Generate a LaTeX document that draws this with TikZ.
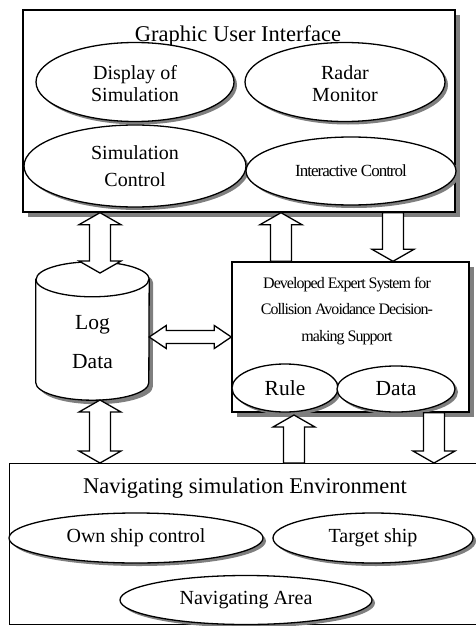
\documentclass[tikz,border=0pt]{standalone}
\usepackage{fontspec}
\setmainfont{Liberation Serif}
\newfontfamily\tightfont{Liberation Serif}[LetterSpace=-6]
\usepackage{tikz}
\usetikzlibrary{
  arrows.meta,
  positioning,
  shapes.geometric,
  shadows,
  calc,
}
\definecolor{shadowGray}{HTML}{7F7F7F}
\tikzset{
  arrshaft/.store in=\arrshaft,
  arrhead/.store in=\arrhead,
  arrtip/.store in=\arrtip,
  arrshaft=10.5pt, arrhead=21pt, arrtip=12pt,
  panel/.style={
    rectangle, draw, line width=1.4pt, fill=white, inner sep=0pt,
  },
  panelShadow/.style={
    drop shadow={shadow xshift=5pt, shadow yshift=-5pt, fill=shadowGray, opacity=1},
  },
  bubble/.style={
    ellipse, draw, line width=1.3pt, fill=white, inner sep=0pt, align=center,
    font=\fontsize{20}{22.5}\selectfont,
    drop shadow={shadow xshift=3pt, shadow yshift=-3pt, fill=shadowGray, opacity=1},
  },
  storeLine/.style={
    draw, line width=1.3pt, fill=white,
    drop shadow={shadow xshift=4pt, shadow yshift=-4pt, fill=shadowGray, opacity=1},
  },
  capArc/.style={x radius=56.5pt, y radius=17.5pt},
  titleText/.style={inner sep=0pt, font=\fontsize{22.5}{26}\selectfont},
  bigText/.style={font=\fontsize{21.5}{24}\selectfont},
  tightText/.style={inner sep=0pt, align=center, font=\tightfont\fontsize{16}{26.5}\selectfont},
  fatArrow/.style={
    draw, line width=1.3pt, fill=white,
    to path={
      ($(\tikztotarget)!\arrtip!(\tikztostart)$) coordinate (hb)
      ($(\tikztostart)!\arrshaft!90:(\tikztotarget)$)
      -- ($(hb)!\arrshaft!90:(\tikztotarget)$)
      -- ($(hb)!\arrhead!90:(\tikztotarget)$)
      -- (\tikztotarget)
      -- ($(hb)!\arrhead!-90:(\tikztotarget)$)
      -- ($(hb)!\arrshaft!-90:(\tikztotarget)$)
      -- ($(\tikztostart)!\arrshaft!-90:(\tikztotarget)$)
      -- cycle
    },
  },
  fatDouble/.style={
    draw, line width=1.3pt, fill=white,
    to path={
      ($(\tikztotarget)!\arrtip!(\tikztostart)$) coordinate (hb)
      ($(\tikztostart)!\arrtip!(\tikztotarget)$) coordinate (ha)
      (\tikztostart)
      -- ($(ha)!\arrhead!90:(\tikztotarget)$)
      -- ($(ha)!\arrshaft!90:(\tikztotarget)$)
      -- ($(hb)!\arrshaft!90:(\tikztotarget)$)
      -- ($(hb)!\arrhead!90:(\tikztotarget)$)
      -- (\tikztotarget)
      -- ($(hb)!\arrhead!-90:(\tikztotarget)$)
      -- ($(hb)!\arrshaft!-90:(\tikztotarget)$)
      -- ($(ha)!\arrshaft!-90:(\tikztotarget)$)
      -- ($(ha)!\arrhead!-90:(\tikztotarget)$)
      -- cycle
    },
  },
}

\begin{document}
\begin{tikzpicture}[x=1pt, y=-1pt]
\useasboundingbox (0,0) rectangle (476,626);

% Graphic user interface
\node[panel, panelShadow, minimum width=432pt, minimum height=202pt] (gui) at (239,111) {};
\node[titleText] (guiTitle) at (238,36) {Graphic User Interface};
\node[bubble, minimum width=198pt, minimum height=79pt] (display) at (135,82) {\\[-5pt]Display of\\Simulation};
\node[bubble, minimum width=200pt, minimum height=79pt] (radar) at (345,82) {\\[-5pt]Radar\\Monitor};
\node[bubble, minimum width=222pt, minimum height=82pt] (simCtrl) at (135,166) {Simulation\\[4.5pt]Control};
\node[bubble, font=\tightfont\fontsize{17}{20}\selectfont, minimum width=210pt, minimum height=68pt] (interact) at (351,171) {Interactive Control};

% Expert system
\node[panel, panelShadow, minimum width=237pt, minimum height=150pt] (expert) at (350.5,337) {};
\node[tightText] (expertText) at (347,311) {Developed Expert System for\\Collision Avoidance Decision-\\making Support};
\node[bubble, bigText, minimum width=106pt, minimum height=48pt] (rule) at (285,388) {Rule};
\node[bubble, bigText, minimum width=118pt, minimum height=46pt] (data) at (396,389) {Data};

% Log data store (cylinder)
\node[inner sep=0pt, minimum width=113pt, minimum height=138pt] (log) at (92.5,331) {};
\draw[storeLine] ($(log.north west)+(0,17.5)$) coordinate (logLid)
  -- ($(log.south west)+(0,-17.5)$) arc[start angle=180, end angle=360, capArc]
  -- ($(log.north east)+(0,17.5)$) arc[start angle=0, end angle=180, capArc] -- cycle;
\draw[line width=1.3pt] (logLid) arc[start angle=180, end angle=360, capArc];
\node[bigText, align=center] (logText) at (92.5,342.5) {Log\\[15pt]Data};

% Navigating simulation environment
\node[panel, anchor=north west, minimum width=490pt, minimum height=161pt] (nav) at (9,463) {};
\node[titleText] (navTitle) at (245,488) {Navigating simulation Environment};
\node[bubble, minimum width=254pt, minimum height=50pt] (own) at (136,538) {Own ship control};
\node[bubble, minimum width=200pt, minimum height=50pt] (target) at (373,538) {Target ship};
\node[bubble, minimum width=252pt, minimum height=49pt] (area) at (246,600) {Navigating Area};

% Block arrows
\coordinate (logTop) at (100,273);
\coordinate (logBase) at (100,400);
\coordinate (ruleIn) at (294,415);
\draw[fatDouble] (gui.south -| logTop) to (logTop);
\draw[fatArrow] (expert.north -| 281,0) to (gui.south -| 281,0);
\draw[fatArrow] (gui.south -| 393,0) to (expert.north -| 393,0);
\draw[fatDouble, arrshaft=6.5pt, arrhead=11.5pt, arrtip=17pt] (log.east |- expert.west) to (expert.west);
\draw[fatDouble] (logBase) to (nav.north -| logBase);
\draw[fatArrow] (nav.north -| ruleIn) to (ruleIn);
\draw[fatArrow] (expert.south -| 434,0) to (nav.north -| 434,0);

\end{tikzpicture}
\end{document}
